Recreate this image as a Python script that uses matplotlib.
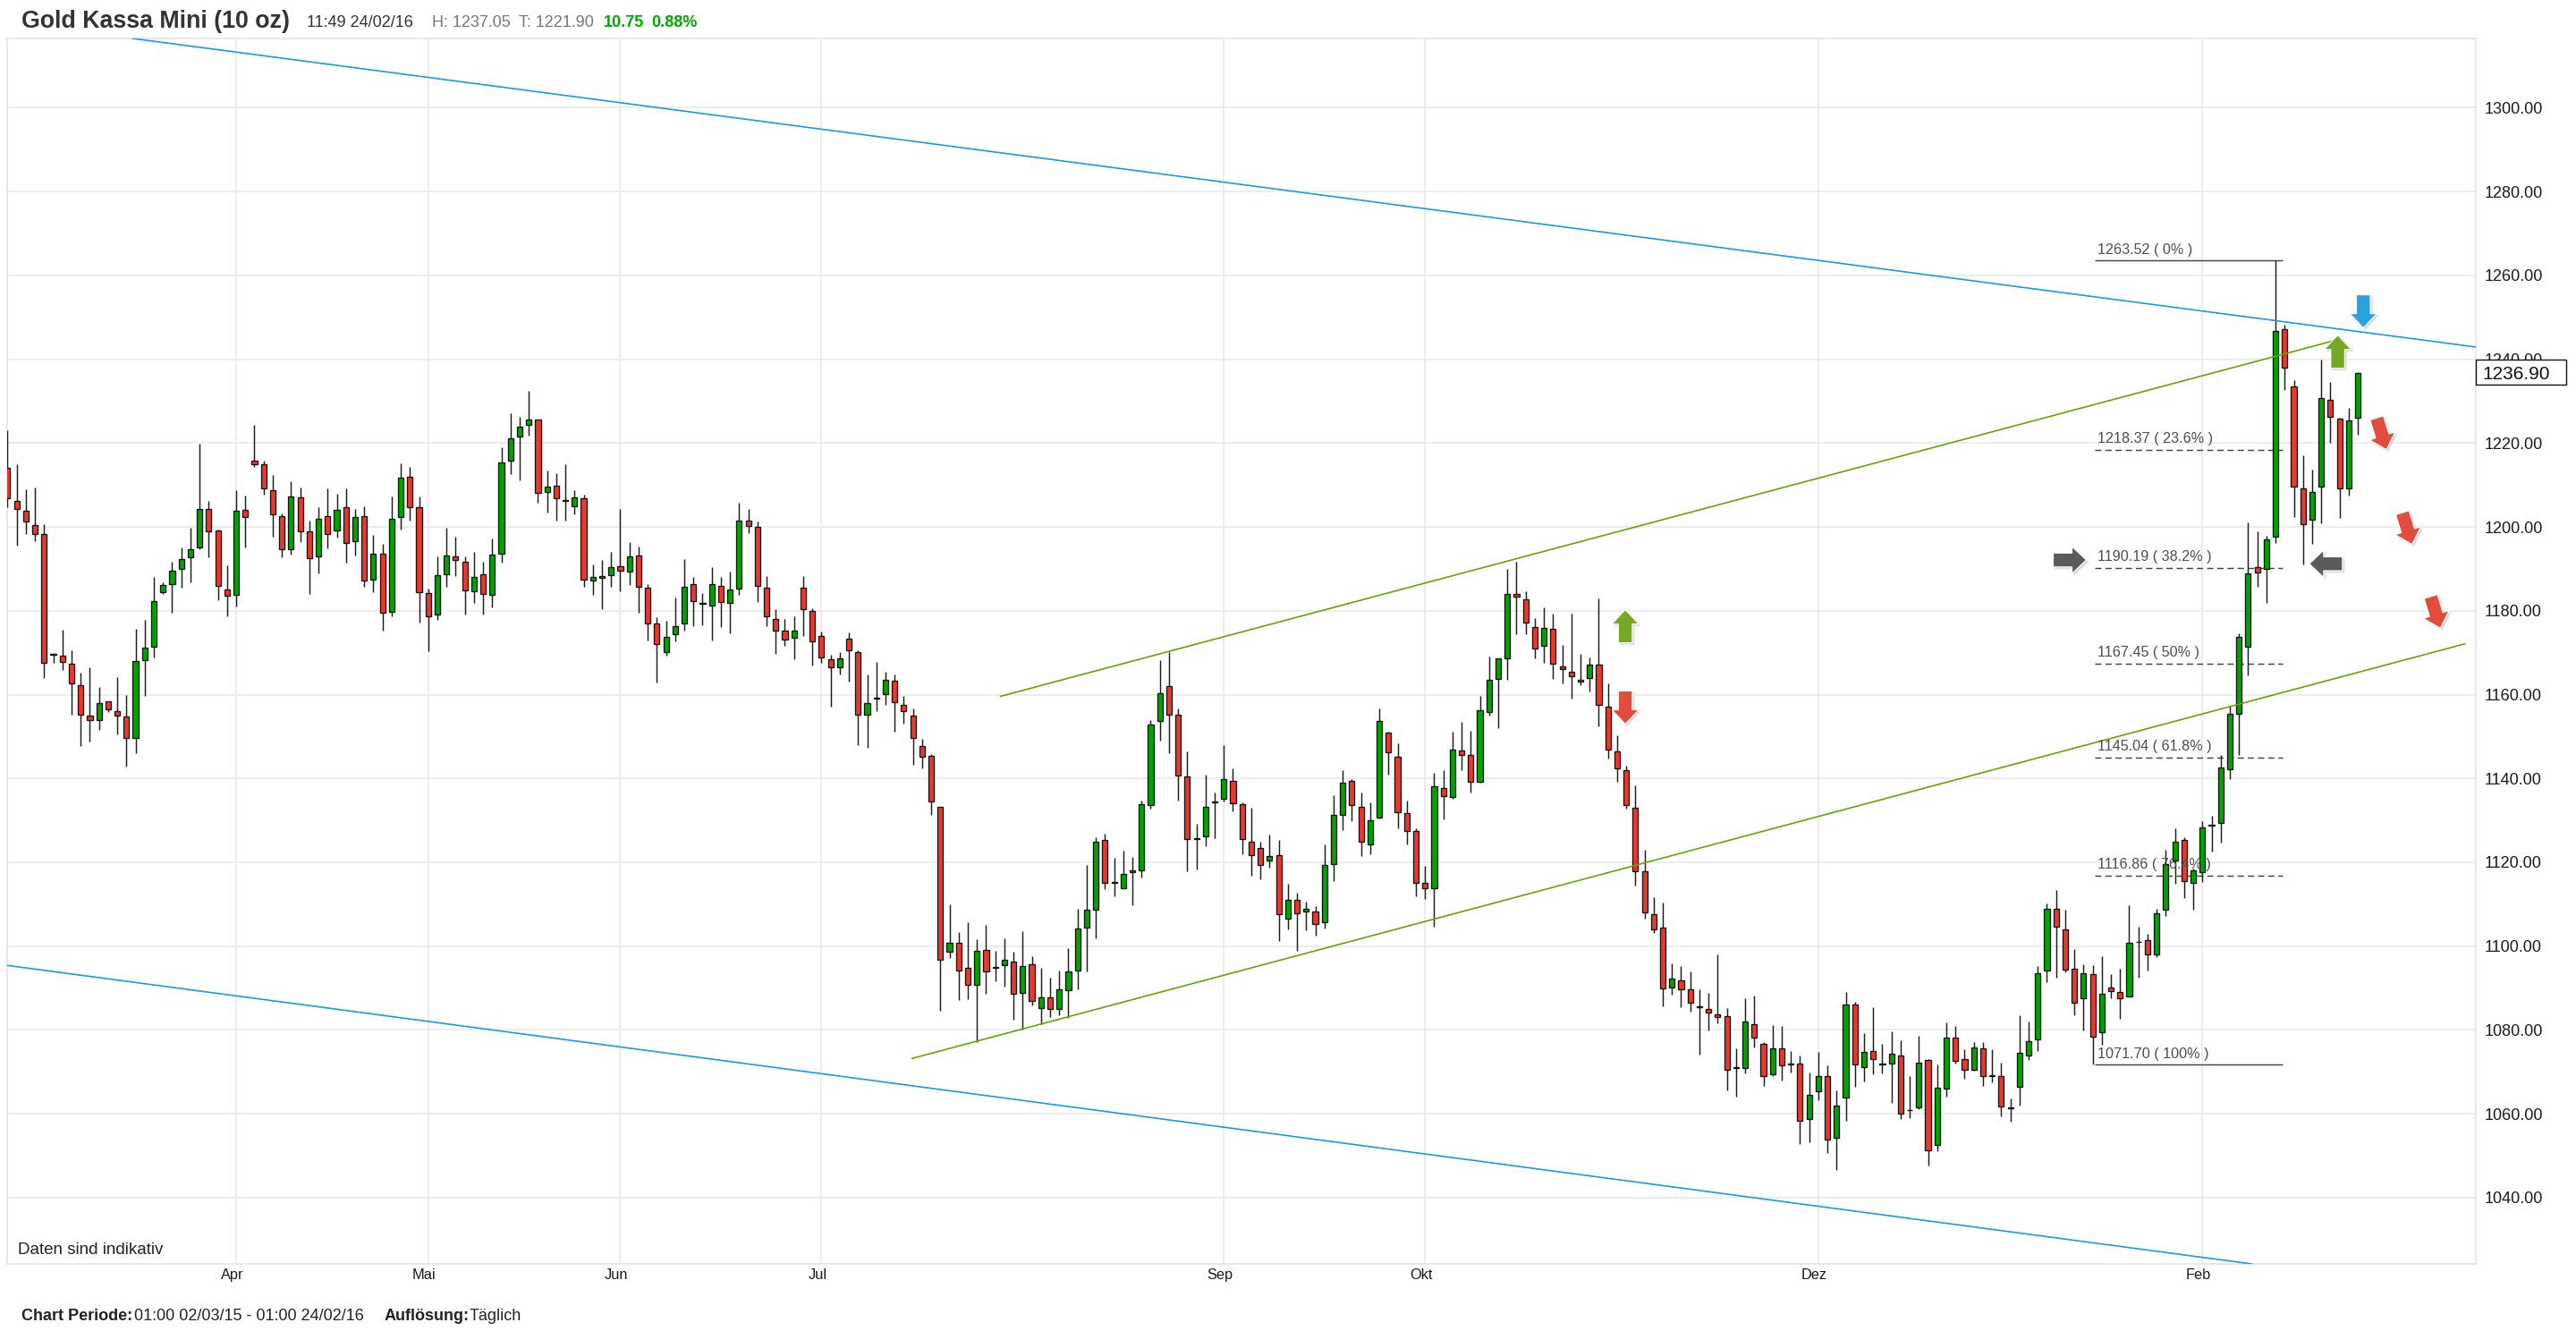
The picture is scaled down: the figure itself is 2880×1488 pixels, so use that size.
import numpy as np
import matplotlib
matplotlib.use("Agg")
import matplotlib.pyplot as plt
from matplotlib.patches import Polygon, Rectangle
from matplotlib.transforms import IdentityTransform, blended_transform_factory

plt.rcParams['font.family'] = ['Liberation Sans', 'DejaVu Sans']

highs = [
1223.1,1214.9,1209.0,1209.5,1200.7,1170.0,1175.4,1170.5,1165.2,1166.6,
1161.8,1158.4,1164.1,1159.9,1175.7,1177.9,1188.0,1186.7,1191.6,1195.1,
1199.8,1219.9,1206.2,1199.4,1190.8,1208.7,1207.4,1224.3,1215.8,1212.4,
1203.3,1210.8,1209.5,1201.4,1204.7,1209.2,1207.9,1209.2,1204.3,1204.9,
1198.1,1196.0,1207.3,1215.1,1214.2,1207.3,1185.2,1192.9,1199.9,1197.7,
1192.9,1194.0,1191.7,1197.2,1218.9,1227.2,1226.2,1232.4,1225.6,1213.5,
1212.8,1214.9,1208.7,1207.6,1191.0,1192.2,1194.0,1204.3,1196.4,1195.4,
1186.3,1178.5,1177.7,1183.1,1192.4,1188.0,1184.3,1190.5,1188.0,1189.3,
1205.8,1204.3,1201.2,1188.2,1180.3,1178.1,1178.7,1188.2,1180.5,1175.1,
1169.6,1170.2,1174.9,1170.5,1164.7,1167.8,1165.5,1164.9,1159.7,1156.8,
1149.4,1145.8,1133.3,1109.9,1103.4,1105.7,1101.7,1105.0,1098.9,1101.9,
1098.6,1103.5,1097.7,1094.8,1092.5,1094.1,1099.6,1108.9,1119.4,1125.9,
1126.8,1121.0,1122.8,1121.2,1134.8,1154.0,1168.3,1170.2,1156.6,1146.4,
1129.2,1140.9,1136.7,1147.9,1142.5,1134.3,1133.0,1124.8,1126.7,1125.4,
1114.9,1112.8,1110.7,1109.5,1124.3,1136.1,1141.9,1139.9,1136.6,1134.3,
1156.7,1151.2,1148.3,1134.7,1128.2,1119.2,1141.3,1142.0,1151.2,1153.6,
1151.3,1159.7,1169.0,1168.6,1190.0,1191.6,1184.6,1178.2,1180.9,1179.3,
1171.8,1179.4,1169.7,1168.8,1183.0,1162.7,1150.2,1143.0,1138.4,1122.9,
1111.6,1110.5,1095.8,1095.2,1094.0,1089.6,1088.8,1098.1,1085.3,1075.6,
1087.5,1088.2,1077.2,1081.2,1080.9,1074.9,1073.9,1069.8,1074.7,1071.6,
1065.5,1089.0,1086.8,1079.2,1085.5,1076.6,1079.6,1077.6,1068.9,1078.5,
1073.0,1071.7,1081.9,1080.9,1075.5,1077.2,1077.1,1075.3,1072.3,1063.6,
1083.6,1082.1,1095.2,1110.2,1113.4,1108.6,1099.3,1095.6,1095.4,1097.5,
1093.4,1094.7,1109.8,1104.6,1102.9,1109.0,1123.0,1128.1,1125.9,1118.4,
1129.8,1131.0,1145.6,1157.4,1174.7,1201.0,1199.0,1197.8,1263.5,1248.2,
1234.9,1217.0,1213.7,1239.9,1234.5,1226.1,1228.4,1237.0]

body_tops = [
1214.1,1206.1,1203.8,1200.4,1198.2,1169.8,1169.3,1167.4,1162.3,1154.9,
1158.0,1158.4,1156.0,1154.7,1167.9,1171.1,1182.3,1186.1,1189.6,1192.3,
1194.7,1204.3,1204.3,1199.1,1185.0,1203.9,1204.0,1215.7,1214.9,1208.8,
1202.6,1207.3,1207.0,1198.9,1201.9,1202.6,1204.1,1204.7,1202.4,1202.6,
1193.7,1193.7,1201.9,1211.7,1212.0,1204.7,1184.3,1188.5,1193.1,1193.0,
1191.7,1188.1,1188.8,1193.3,1215.3,1221.2,1223.8,1225.6,1225.6,1209.7,
1209.8,1206.5,1207.0,1206.8,1188.0,1188.3,1190.3,1190.7,1193.0,1193.2,
1185.4,1177.0,1173.7,1176.4,1185.7,1186.3,1181.8,1186.3,1185.9,1185.0,
1201.6,1201.6,1200.0,1185.4,1178.0,1175.2,1175.3,1185.4,1179.9,1173.9,
1168.5,1168.7,1173.3,1170.2,1158.0,1159.2,1163.6,1163.3,1157.6,1155.0,
1147.8,1145.3,1133.2,1100.9,1100.9,1094.9,1098.9,1099.1,1095.1,1096.7,
1096.4,1095.3,1095.7,1087.7,1087.7,1089.6,1093.9,1104.2,1108.6,1124.9,
1125.4,1115.2,1117.3,1118.0,1133.9,1152.8,1160.4,1162.0,1155.3,1140.5,
1125.8,1133.3,1134.4,1139.8,1139.5,1133.9,1124.9,1123.5,1121.4,1121.7,
1111.1,1111.0,1109.0,1108.2,1119.3,1131.4,1138.9,1139.5,1133.2,1130.0,
1153.8,1150.9,1145.2,1131.7,1127.4,1115.0,1138.1,1137.6,1146.9,1146.7,
1145.6,1156.2,1163.6,1168.6,1184.1,1184.1,1182.8,1176.2,1176.0,1175.6,
1166.8,1165.5,1163.5,1167.1,1167.2,1157.2,1146.4,1141.9,1133.1,1117.9,
1107.7,1104.5,1092.2,1091.9,1089.6,1085.7,1085.0,1083.8,1083.3,1071.2,
1082.1,1081.4,1076.7,1075.6,1075.6,1072.0,1072.0,1064.5,1069.0,1068.9,
1062.0,1086.1,1086.0,1074.7,1075.0,1072.0,1074.4,1073.9,1061.0,1072.2,
1072.8,1066.2,1078.1,1078.1,1073.0,1075.9,1075.7,1069.2,1069.0,1061.5,
1074.5,1077.4,1093.5,1108.8,1109.0,1104.1,1094.6,1093.5,1093.4,1088.7,
1090.2,1089.1,1100.9,1101.1,1101.4,1107.8,1119.6,1124.9,1125.3,1118.1,
1128.4,1129.0,1142.6,1155.4,1173.8,1189.0,1190.3,1197.0,1246.7,1247.1,
1233.6,1209.1,1208.3,1230.8,1230.3,1225.9,1225.4,1236.7]

body_bottoms = [
1206.8,1204.3,1201.2,1198.4,1167.5,1169.6,1167.8,1162.7,1155.2,1154.0,
1154.0,1156.4,1155.0,1149.7,1149.6,1168.3,1171.5,1184.5,1186.3,1190.0,
1192.7,1195.2,1198.9,1186.0,1183.6,1183.8,1202.4,1214.9,1209.1,1202.9,
1194.7,1194.6,1199.0,1192.6,1193.0,1198.2,1199.1,1196.2,1196.5,1187.3,
1187.5,1179.6,1179.7,1202.4,1204.8,1184.4,1178.6,1179.1,1188.6,1192.2,
1184.9,1184.7,1184.0,1183.8,1193.5,1215.8,1221.6,1224.4,1208.2,1208.3,
1206.8,1206.3,1205.0,1187.5,1187.2,1187.8,1188.4,1189.5,1189.4,1185.7,
1176.9,1172.1,1170.2,1174.4,1177.0,1182.2,1181.6,1181.2,1182.1,1181.9,
1185.3,1200.3,1186.0,1178.7,1175.3,1173.2,1173.5,1180.4,1172.8,1168.8,
1166.5,1166.6,1170.5,1155.2,1155.1,1159.0,1160.1,1158.2,1156.1,1149.6,
1145.1,1134.5,1096.8,1098.7,1094.2,1090.7,1090.7,1094.0,1094.9,1095.4,
1088.7,1088.9,1086.9,1085.3,1085.1,1085.0,1089.5,1094.2,1104.4,1108.7,
1115.1,1115.0,1113.9,1117.7,1118.0,1133.7,1153.8,1155.2,1140.7,1125.5,
1125.6,1126.1,1134.2,1135.1,1134.1,1125.6,1121.8,1119.3,1120.4,1107.6,
1106.5,1107.8,1108.2,1105.3,1105.6,1119.6,1131.2,1133.7,1124.9,1124.3,
1130.6,1146.3,1132.0,1127.5,1115.1,1113.8,1113.8,1135.7,1135.6,1145.6,
1139.1,1139.1,1155.9,1163.8,1168.7,1183.3,1177.1,1170.9,1171.6,1167.3,
1166.0,1164.4,1163.2,1163.9,1157.5,1146.8,1142.3,1133.7,1117.9,1108.1,
1104.1,1089.9,1090.2,1089.8,1086.6,1085.5,1084.1,1083.0,1070.5,1071.0,
1071.0,1078.2,1069.0,1069.5,1071.5,1071.8,1058.4,1058.8,1065.4,1053.8,
1054.2,1063.8,1071.7,1071.2,1073.0,1071.7,1071.9,1060.0,1060.9,1061.6,
1051.2,1052.5,1066.1,1072.7,1070.6,1070.5,1069.1,1068.9,1061.7,1061.4,
1066.4,1074.0,1077.7,1094.2,1104.6,1094.5,1086.4,1087.5,1078.3,1079.4,
1089.2,1087.6,1087.9,1101.0,1098.1,1098.0,1108.6,1120.4,1115.5,1115.1,
1117.6,1128.8,1129.3,1142.1,1155.5,1171.5,1189.1,1190.0,1197.6,1238.0,
1209.6,1200.6,1201.7,1209.6,1226.3,1209.1,1209.2,1226.0]

lows = [
1204.8,1195.5,1198.4,1196.6,1163.9,1167.5,1165.9,1155.2,1147.8,1148.7,
1151.5,1155.9,1150.5,1142.9,1146.0,1159.7,1168.9,1184.1,1179.5,1185.6,
1186.7,1194.6,1192.7,1182.5,1178.6,1181.0,1195.2,1214.2,1207.6,1197.7,
1192.7,1193.4,1196.4,1184.1,1189.0,1194.8,1197.4,1191.5,1193.2,1185.8,
1184.4,1175.3,1178.7,1199.3,1201.5,1177.2,1170.3,1177.9,1185.8,1188.3,
1179.0,1181.9,1179.1,1180.9,1191.4,1212.5,1211.1,1221.7,1205.8,1203.4,
1201.5,1201.6,1203.0,1185.7,1183.8,1180.4,1185.8,1184.6,1186.1,1179.5,
1173.0,1162.9,1169.3,1172.6,1175.3,1176.4,1176.6,1172.9,1176.1,1174.7,
1183.8,1198.5,1182.1,1176.3,1169.8,1171.6,1168.4,1174.0,1166.9,1167.6,
1157.2,1164.8,1163.0,1148.0,1147.3,1156.1,1157.5,1151.2,1153.1,1143.2,
1142.4,1131.2,1084.5,1097.1,1087.1,1087.4,1077.1,1088.6,1091.6,1090.4,
1082.5,1080.2,1085.9,1081.3,1083.0,1083.6,1082.9,1089.7,1093.9,1101.9,
1113.7,1111.9,1113.9,1109.8,1116.4,1132.8,1149.0,1146.0,1134.7,1117.8,
1118.3,1123.9,1125.7,1134.5,1132.2,1121.9,1116.7,1116.0,1118.7,1101.3,
1103.9,1098.9,1103.7,1102.6,1104.2,1115.5,1127.7,1129.8,1121.4,1122.0,
1130.5,1140.9,1128.1,1124.3,1111.8,1111.2,1104.7,1130.2,1135.1,1141.9,
1136.7,1138.9,1155.0,1151.9,1163.5,1174.3,1174.4,1168.7,1167.5,1163.8,
1162.7,1159.1,1162.3,1160.8,1152.4,1144.8,1139.3,1132.7,1114.5,1106.6,
1103.2,1085.6,1088.5,1085.4,1084.3,1074.2,1079.8,1081.5,1065.6,1064.1,
1069.7,1075.9,1066.7,1069.1,1067.9,1069.8,1052.8,1053.2,1063.3,1050.7,
1046.5,1058.4,1066.5,1067.8,1069.5,1069.6,1062.6,1058.8,1058.9,1061.1,
1047.7,1051.0,1064.1,1071.9,1068.3,1070.3,1066.6,1067.6,1059.5,1058.2,
1061.9,1072.9,1074.9,1091.5,1092.4,1093.7,1083.6,1079.9,1071.7,1076.5,
1087.6,1082.7,1087.9,1092.5,1094.1,1097.4,1107.2,1114.9,1111.4,1108.6,
1115.4,1122.6,1124.6,1139.8,1145.5,1164.5,1185.8,1181.8,1196.1,1232.6,
1202.3,1191.1,1195.9,1200.9,1220.1,1202.2,1207.4,1221.9]

directions = ("RRRRRRRRRR" "GRRRGGGGGG" "GGRRRGRRRR" "RGRRGRGRGR" "GRGGRRRGGR"
              "RGRGGGGGRG" "RRGRGGGRGR" "RRGGGRRGRG" "GRRRRRGRRR" "RGRRGRGRRR"
              "RRRGRRGRRG" "RGRGRGGGGG" "RRGGGGGRRR" "RGGGRRRRGR" "GRGRGGGRRG"
              "GRRRRRGRGR" "RGGGGRRRGR" "RRRGRRRRRR" "RRGRRRRRRR" "GRRGRRRGGR"
              "GGRGRRGRRG" "RGGRRGRRRR" "GGGGRRRGRG" "RRGRRGGGRG" "GRGGGGRGGR"
              "RRGGRRGG")

month_labels = ["Apr", "Mai", "Jun", "Jul", "Sep", "Okt", "Dez", "Feb"]
month_positions = [25, 46, 67, 89, 133, 155, 198, 240]
price_ticks = list(range(1040, 1301, 20))

fib_prices = [1263.52, 1218.37, 1190.19, 1167.45, 1145.04, 1116.86, 1071.70]
fib_labels = ["0%", "23.6%", "38.2%", "50%", "61.8%", "76.4%", "100%"]
fib_start, fib_end = 228.2, 248.8

blue_upper_x, blue_upper_y = [13.66, 269.9], [1316.5, 1242.9]
blue_lower_x, blue_lower_y = [-0.04, 245.4], [1095.4, 1024.2]
green_upper_x, green_upper_y = [108.6, 254.7], [1159.6, 1244.6]
green_lower_x, green_lower_y = [98.9, 268.7], [1073.2, 1172.1]

last_price = 1236.90

# arrows: index, price, rotation (0 = up, clockwise degrees), colour
arrow_x = [176.9, 176.9, 254.8, 257.6, 225.5, 253.5, 259.6, 262.4, 265.5]
arrow_y = [1176.3, 1156.9, 1241.8, 1251.4, 1192.1, 1191.2, 1222.2, 1199.6, 1179.6]
arrow_rot = [0, 180, 0, 180, 90, 270, 163, 163, 163]
arrow_col = ["#77A825", "#E24C3D", "#77A825", "#29A3DC", "#5A5A5A", "#5A5A5A",
             "#E24C3D", "#E24C3D", "#E24C3D"]

W, H = 2880, 1488
fig = plt.figure(figsize=(W / 100, H / 100), dpi=100, facecolor="white")
L, R, T, B = 7.5, 2768, 43, 1413
ax = fig.add_axes([L / W, 1 - B / H, (R - L) / W, (B - T) / H])
ax.set_xlim(-0.09, 269.9)
ax.set_ylim(1024.2, 1316.5)

GRID = "#e9e9e9"
ax.set_yticks(price_ticks)
ax.set_yticklabels([f"{p:.2f}" for p in price_ticks], fontsize=13, color="#1a1a1a")
ax.yaxis.tick_right()
ax.tick_params(axis="y", length=0, pad=7.2)
ax.set_xticks(month_positions)
ax.tick_params(axis="x", length=0, labelbottom=False)
ax.grid(True, color=GRID, lw=1.15, zorder=0)
ax.set_axisbelow(True)
for s in ax.spines.values():
    s.set_color("#e1e1e1")
    s.set_linewidth(1.15)

idx = np.arange(len(highs))
tops = np.array(body_tops)
bots = np.array(body_bottoms)

# Fibonacci levels (under the candles)
for price, pct in zip(fib_prices, fib_labels):
    solid = pct in ("0%", "100%")
    ax.hlines(price, fib_start, fib_end, color="#444444", lw=1.05,
              linestyles="solid" if solid else (0, (4.8, 3)), zorder=2)

# candles
ax.vlines(idx, lows, highs, color="#1c1c1c", lw=1.05, zorder=3)
colors = ["#E8392F" if d == "R" else "#00A400" for d in directions]
ax.bar(idx, tops - bots, bottom=bots, width=0.6, color=colors,
       edgecolor="#141414", linewidth=0.95, zorder=4)

# trend lines
for xs, ys, c in [(blue_upper_x, blue_upper_y, "#1A9BDA"), (blue_lower_x, blue_lower_y, "#1A9BDA"),
                  (green_upper_x, green_upper_y, "#68A208"), (green_lower_x, green_lower_y, "#68A208")]:
    ax.plot(xs, ys, color=c, lw=1.2, zorder=5)

# Fibonacci labels
for price, pct in zip(fib_prices, fib_labels):
    ax.annotate(f"{price:.2f} ( {pct} )", xy=(fib_start, price), xytext=(2.2, 3.4),
                textcoords="offset points", fontsize=11.6, color="#4d4d4d",
                ha="left", va="bottom", zorder=6)

# arrows
def draw_arrow(x, y, rot, col):
    cx, cy = ax.transData.transform((x, y))
    length, head_w, shaft_w, head_l = 37, 30, 15.5, 16
    pts = np.array([(-shaft_w / 2, -length / 2), (shaft_w / 2, -length / 2),
                    (shaft_w / 2, length / 2 - head_l), (head_w / 2, length / 2 - head_l),
                    (0, length / 2), (-head_w / 2, length / 2 - head_l),
                    (-shaft_w / 2, length / 2 - head_l)])
    a = np.deg2rad(-rot)
    rotm = np.array([[np.cos(a), -np.sin(a)], [np.sin(a), np.cos(a)]])
    pts = pts @ rotm.T + [cx, cy]
    fig.add_artist(Polygon(pts + [2.0, -2.0], closed=True, fc="#d6d6d6", ec="#e6e6e6", lw=1,
                           transform=IdentityTransform(), zorder=6))
    fig.add_artist(Polygon(pts, closed=True, fc=col, ec="white", lw=0.8,
                           transform=IdentityTransform(), zorder=7))

for x, y, r, c in zip(arrow_x, arrow_y, arrow_rot, arrow_col):
    draw_arrow(x, y, r, c)

# last price tag
tr = blended_transform_factory(ax.transAxes, ax.transData)
ax.add_patch(Rectangle((1.0, last_price - 2.9), 101 / (R - L), 5.8, transform=tr, fc="white",
                       ec="#111111", lw=1.0, clip_on=False, zorder=10))
ax.text(1 + 7.7 / (R - L), last_price, f"{last_price:.2f}", transform=tr, fontsize=15,
        color="#111111", ha="left", va="center_baseline", zorder=11, clip_on=False)

# month labels
for lab, pos in zip(month_labels, month_positions):
    ax.annotate(lab, xy=(pos, 0), xycoords=("data", "axes fraction"), xytext=(-3.2, -9.3),
                textcoords="offset points", ha="center", va="center", fontsize=11.8, color="#1a1a1a")

def px(x, y, s, **kw):
    fig.text(x / W, 1 - y / H, s, va="center", ha="left", **kw)

px(24, 24, "Gold Kassa Mini (10 oz)", fontsize=19.3, fontweight="bold", color="#333333")
px(343, 25, "11:49 24/02/16", fontsize=13, color="#333333")
px(482.6, 25, "H: 1237.05", fontsize=13, color="#777777")
px(580, 25, "T: 1221.90", fontsize=13, color="#777777")
px(675, 25, "10.75", fontsize=13, fontweight="bold", color="#00AA00")
px(728.6, 25, "0.88%", fontsize=13, fontweight="bold", color="#00AA00")
px(20.4, 1398, "Daten sind indikativ", fontsize=13.5, color="#222222")
px(24, 1471, "Chart Periode:", fontsize=13, fontweight="bold", color="#222222")
px(149.5, 1471, "01:00 02/03/15 - 01:00 24/02/16", fontsize=13, color="#222222")
px(430, 1471, "Auflösung:", fontsize=13, fontweight="bold", color="#222222")
px(524.5, 1471, "Täglich", fontsize=13, color="#222222")

fig.savefig("out.png", dpi=100, facecolor="white")
